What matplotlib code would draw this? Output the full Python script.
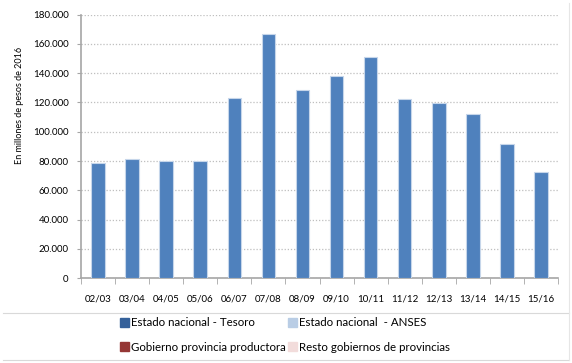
import matplotlib.pyplot as plt
import matplotlib.patches as mpatches
from matplotlib.lines import Line2D
import numpy as np

plt.rcParams['font.family'] = ['Lato', 'DejaVu Sans']

periods = ["02/03", "03/04", "04/05", "05/06", "06/07", "07/08", "08/09",
           "09/10", "10/11", "11/12", "12/13", "13/14", "14/15", "15/16"]
tesoro = [78500, 81300, 79900, 79900, 122900, 166600, 128400,
          137700, 151300, 122200, 119500, 112200, 91900, 72800]
y_ticks = [0, 20000, 40000, 60000, 80000, 100000, 120000, 140000, 160000, 180000]
y_tick_labels = ["0", "20.000", "40.000", "60.000", "80.000", "100.000",
                 "120.000", "140.000", "160.000", "180.000"]
series_names = ["Estado nacional - Tesoro", "Estado nacional  - ANSES",
                "Gobierno provincia productora", "Resto gobiernos de provincias"]
series_colors = ["#35619a", "#b9cde5", "#953735", "#f2dcdb"]

fig = plt.figure(figsize=(5.72, 3.63), dpi=100)
ax = fig.add_axes([81 / 572, 1 - 278.3 / 363, (558 - 81) / 572, (278.3 - 14.5) / 363])

x = np.arange(len(periods))
ax.bar(x, tesoro, width=0.4, color="#4f81bd", edgecolor="#c6d6ea", linewidth=0.8, zorder=3)

ax.set_xlim(-0.5, len(periods) - 0.5)
ax.set_ylim(0, 180000)
ax.set_yticks(y_ticks)
ax.set_yticklabels(y_tick_labels)
ax.set_xticks(x)
ax.set_xticklabels(periods)
ax.set_xticks(np.arange(-0.5, len(periods), 1), minor=True)
ax.tick_params(axis="x", which="major", length=0, pad=12, labelsize=7)
ax.tick_params(axis="x", which="minor", length=4, color="#a6a6a6", direction="out")
ax.tick_params(axis="y", length=3, color="#a6a6a6", labelsize=7, pad=6)

ax.grid(axis="y", color="#bfbfbf", linestyle=(0, (1, 1.5)), linewidth=0.9, zorder=0)
for s in ["top", "right"]:
    ax.spines[s].set_visible(False)
for s in ["left", "bottom"]:
    ax.spines[s].set_color("#a6a6a6")
    ax.spines[s].set_linewidth(1.2)

fig.text(20 / 572, 1 - 105 / 363, "En millones de pesos de 2016", rotation=90,
         ha="center", va="center", fontsize=6.5)

# chart frame lines
fig.add_artist(Line2D([3 / 572, 569 / 572], [1 - 312.5 / 363] * 2, color="#d9d9d9", lw=0.8))
fig.add_artist(Line2D([3 / 572, 569 / 572], [1 - 360 / 363] * 2, color="#d9d9d9", lw=0.8))
fig.add_artist(Line2D([569 / 572] * 2, [1 - 3 / 363, 1 - 360 / 363], color="#e6e6e6", lw=0.8))

# legend fills column-wise, so order the handles to read row by row
order = [0, 2, 1, 3]
handles = [mpatches.Patch(color=series_colors[i], label=series_names[i]) for i in order]
fig.legend(handles=handles, ncol=2, loc="upper left", bbox_to_anchor=(110 / 572, 1 - 307 / 363),
           frameon=False, fontsize=8.3, handlelength=0.75, handleheight=0.75,
           handletextpad=0.2, columnspacing=0.2, labelspacing=1.15)

fig.savefig("out.png", dpi=100)
